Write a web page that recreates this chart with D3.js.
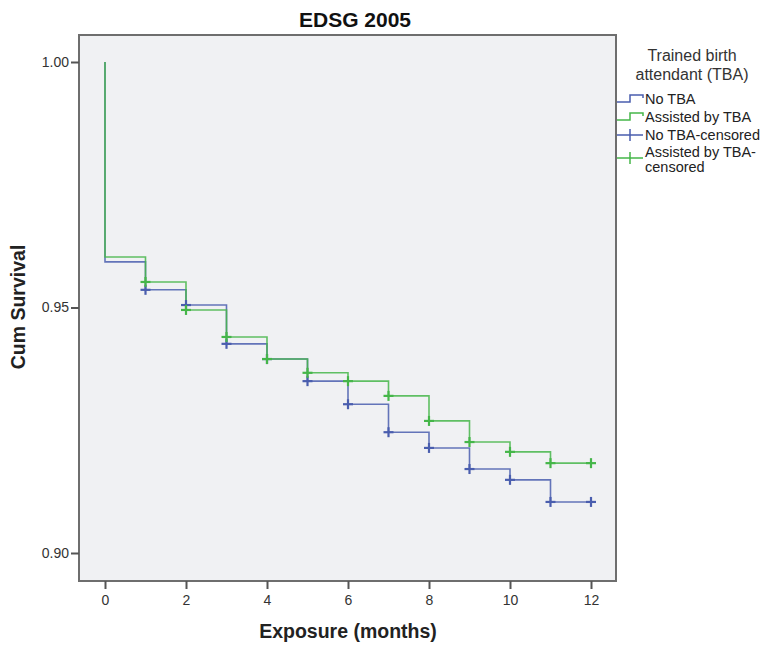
<!DOCTYPE html>
<html>
<head>
<meta charset="utf-8">
<script src="https://cdn.jsdelivr.net/npm/d3@7"></script>
<style>
  body { margin: 0; background: #fff; }
  text { font-family: Arial, "Liberation Sans", sans-serif; }
</style>
</head>
<body>
<svg id="chart" width="768" height="645"></svg>
<script>
// survival steps (value after drop at each month)
const months = [0, 1, 2, 3, 4, 5, 6, 7, 8, 9, 10, 11, 12]
const noTBA = [0.9593, 0.9536, 0.9505, 0.9426, 0.9395, 0.9350, 0.9303, 0.9246, 0.9214, 0.9171, 0.9149, 0.9104, 0.9104]
const assistedTBA = [0.9603, 0.9552, 0.9495, 0.9440, 0.9395, 0.9367, 0.9350, 0.9320, 0.9269, 0.9226, 0.9206, 0.9183, 0.9183]
const xTicks = [0, 2, 4, 6, 8, 10, 12]
const yTicks = [0.90, 0.95, 1.00]
const legendLabels = ['No TBA', 'Assisted by TBA', 'No TBA-censored', 'Assisted by TBA-censored']

const blue = '#4a5eae'
const green = '#45b649'

const svg = d3.select('#chart')
const frame = { left: 79, top: 35, right: 616, bottom: 581 }

const x = d3.scaleLinear().domain([0, 12]).range([105, 591])
const y = d3.scaleLinear().domain([0.90, 1.00]).range([553, 62])

svg.append('rect')
  .attr('x', frame.left).attr('y', frame.top)
  .attr('width', frame.right - frame.left).attr('height', frame.bottom - frame.top)
  .attr('fill', '#f0f1f3').attr('stroke', '#6e6e6e').attr('stroke-width', 2)

// title
svg.append('text').attr('x', 355).attr('y', 27)
  .attr('text-anchor', 'middle').attr('font-weight', 'bold').style('font-size', '21px')
  .attr('fill', '#111').text('EDSG 2005')

// y axis
const yAxis = svg.append('g').attr('transform', `translate(${frame.left},0)`)
  .call(d3.axisLeft(y).tickValues(yTicks).tickFormat(d3.format('.2f')).tickSize(8).tickPadding(2))
yAxis.select('.domain').remove()
yAxis.selectAll('line').attr('stroke', '#555').attr('stroke-width', 2)
yAxis.selectAll('text').style('font-size', '14px').attr('fill', '#333')
  .style('font-family', 'Arial, "Liberation Sans", sans-serif')

// x axis
const xAxis = svg.append('g').attr('transform', `translate(0,${frame.bottom})`)
  .call(d3.axisBottom(x).tickValues(xTicks).tickSize(8).tickPadding(6))
xAxis.select('.domain').remove()
xAxis.selectAll('line').attr('stroke', '#555').attr('stroke-width', 2)
xAxis.selectAll('text').style('font-size', '14px').attr('fill', '#333')
  .style('font-family', 'Arial, "Liberation Sans", sans-serif')

svg.append('text').attr('x', 348).attr('y', 638)
  .attr('text-anchor', 'middle').attr('font-weight', 'bold').style('font-size', '19.5px')
  .attr('fill', '#222').text('Exposure (months)')

svg.append('text').attr('transform', 'translate(25,307) rotate(-90)')
  .attr('text-anchor', 'middle').attr('font-weight', 'bold').style('font-size', '19.5px')
  .attr('fill', '#222').text('Cum Survival')

// step curves
function stepPoints(vals) {
  const pts = [[0, 1.0]]
  vals.forEach((v, i) => {
    pts.push([months[i], v])
    if (i < vals.length - 1) pts.push([months[i + 1], v])
  })
  return pts
}
const line = d3.line().x(d => x(d[0])).y(d => y(d[1]))

const series = [
  { vals: noTBA, color: blue },
  { vals: assistedTBA, color: green }
]
series.forEach(s => {
  svg.append('path').attr('d', line(stepPoints(s.vals)))
    .attr('fill', 'none').attr('stroke', s.color).attr('stroke-width', 1.6)
    .attr('stroke-opacity', 0.85)
})

// censored marks
series.forEach(s => {
  const g = svg.append('g').attr('stroke', s.color).attr('stroke-width', 2.2)
  months.slice(1).forEach((m, j) => {
    const v = s.vals[j + 1]
    const cx = x(m), cy = y(v)
    g.append('line').attr('x1', cx - 5).attr('x2', cx + 5).attr('y1', cy).attr('y2', cy)
    g.append('line').attr('x1', cx).attr('x2', cx).attr('y1', cy - 5).attr('y2', cy + 5)
  })
})

// legend
const lg = svg.append('g')
lg.append('text').attr('x', 692).attr('y', 61).attr('text-anchor', 'middle')
  .style('font-size', '16px').attr('fill', '#333').text('Trained birth')
lg.append('text').attr('x', 692).attr('y', 80).attr('text-anchor', 'middle')
  .style('font-size', '16px').attr('fill', '#333').text('attendant (TBA)')

const legendColors = [blue, green, blue, green]
const legendY = [99, 117, 135, 158]
legendLabels.forEach((lab, i) => {
  const ly = legendY[i]
  const c = legendColors[i]
  if (i < 2) {
    lg.append('path')
      .attr('d', `M617,${ly + 3}H630V${ly - 4}H643V${ly - 1}`)
      .attr('fill', 'none').attr('stroke', c).attr('stroke-width', 1.5)
  } else {
    lg.append('path')
      .attr('d', `M617,${ly}H643M630,${ly - 6}V${ly + 6}`)
      .attr('fill', 'none').attr('stroke', c).attr('stroke-width', 1.5)
  }
  if (i < 3) {
    lg.append('text').attr('x', 645).attr('y', ly + 5)
      .style('font-size', '14.5px').attr('fill', '#222').text(lab)
  } else {
    lg.append('text').attr('x', 645).attr('y', ly - 1)
      .style('font-size', '14.5px').attr('fill', '#222').text('Assisted by TBA-')
    lg.append('text').attr('x', 645).attr('y', ly + 14)
      .style('font-size', '14.5px').attr('fill', '#222').text('censored')
  }
})
</script>
</body>
</html>
